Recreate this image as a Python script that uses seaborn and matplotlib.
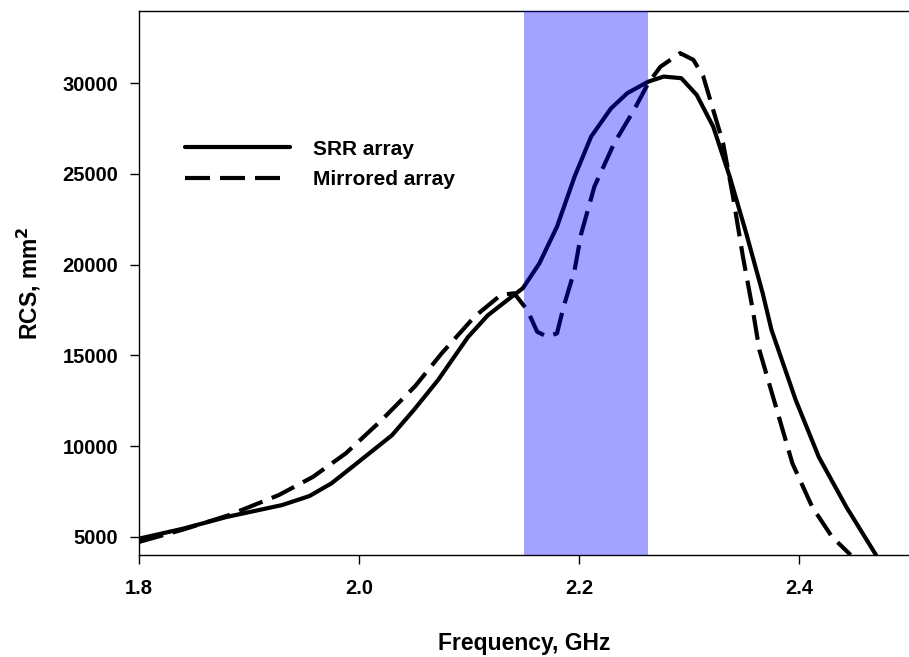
# RCS versus frequency for SRR array and mirrored array

import numpy as np
import matplotlib
matplotlib.use("Agg")
import matplotlib.pyplot as plt
import seaborn as sns

# Data
srr_freq = [1.80, 1.84, 1.88, 1.93, 1.955, 1.975, 2.00, 2.03, 2.05, 2.072, 2.099, 2.117,
            2.135, 2.149, 2.164, 2.18, 2.196, 2.211, 2.229, 2.244, 2.263, 2.277,
            2.293, 2.307, 2.322, 2.337, 2.352, 2.367, 2.375, 2.397, 2.418, 2.443, 2.47]
srr_rcs = [4900, 5450, 6100, 6750, 7250, 7950, 9150, 10600, 12000, 13650, 16000, 17200,
           18050, 18700, 20070, 22090, 24850, 27050, 28600, 29450, 30080, 30360,
           30270, 29350, 27600, 24850, 21730, 18420, 16400, 12540, 9400, 6650, 4000]

mir_freq = [1.80, 1.84, 1.882, 1.927, 1.958, 1.988, 2.02, 2.051, 2.075, 2.105, 2.129,
            2.141, 2.153, 2.162, 2.171, 2.18, 2.186, 2.196, 2.202, 2.214, 2.232,
            2.25, 2.263, 2.274, 2.292, 2.304, 2.313, 2.322, 2.331, 2.34, 2.349,
            2.358, 2.364, 2.379, 2.394, 2.412, 2.43, 2.447]
mir_rcs = [4720, 5400, 6200, 7300, 8300, 9600, 11400, 13300, 15100, 17130, 18330,
           18420, 17500, 16300, 16030, 16210, 17680, 19700, 21700, 24300, 26690,
           28520, 30000, 30900, 31650, 31280, 30360, 28520, 26690, 23750, 20440,
           17500, 15290, 12170, 9050, 6650, 5000, 4000]

band = (2.15, 2.263)
x_ticks = [1.8, 2.0, 2.2, 2.4]
y_ticks = [5000, 10000, 15000, 20000, 25000, 30000]

sns.set_style("ticks")
plt.rcParams["font.family"] = ["Liberation Sans", "DejaVu Sans"]
plt.rcParams["font.weight"] = "bold"
for key in ["text.color", "axes.labelcolor", "xtick.color", "ytick.color"]:
    plt.rcParams[key] = "black"

fig = plt.figure(figsize=(9.09, 6.57), dpi=100)
ax = fig.add_axes([139 / 909, 1 - 555 / 657, 1 - 139 / 909, 544.5 / 657])

sns.lineplot(x=srr_freq, y=srr_rcs, ax=ax, color="black", lw=3,
             label="SRR array", zorder=2)
sns.lineplot(x=mir_freq, y=mir_rcs, ax=ax, color="black", lw=3,
             linestyle=(0, (6, 2.4)), label="Mirrored array", zorder=2)

# Shaded band drawn over the curves
ax.axvspan(*band, color="blue", alpha=0.36, lw=0, zorder=3)

ax.set_xlim(1.8, 2.5)
ax.set_ylim(4000, 34000)
ax.set_xticks(x_ticks)
ax.set_xticklabels([f"{v:.1f}" for v in x_ticks])
ax.set_yticks(y_ticks)
ax.set_yticklabels([str(v) for v in y_ticks])
ax.tick_params(axis="both", direction="out", length=6.5, width=1, labelsize=14.5)
ax.tick_params(axis="x", pad=11)
ax.tick_params(axis="y", pad=8.5)

for s in ["left", "top", "bottom"]:
    ax.spines[s].set_linewidth(1)
    ax.spines[s].set_color("black")
ax.spines["right"].set_visible(False)

ax.set_xlabel("Frequency, GHz", fontsize=16.5, fontweight="bold", labelpad=24)
ax.set_ylabel("RCS, mm$^\\mathbf{2}$", fontsize=16.5, fontweight="bold", labelpad=14)

leg = ax.legend(loc="upper left", bbox_to_anchor=(0.0597, 0.763), frameon=False,
                borderpad=0, borderaxespad=0, handlelength=5.05, handletextpad=1.1,
                labelspacing=0.55, prop={"size": 15, "weight": "bold"})

plt.savefig("out.png", dpi=100)
